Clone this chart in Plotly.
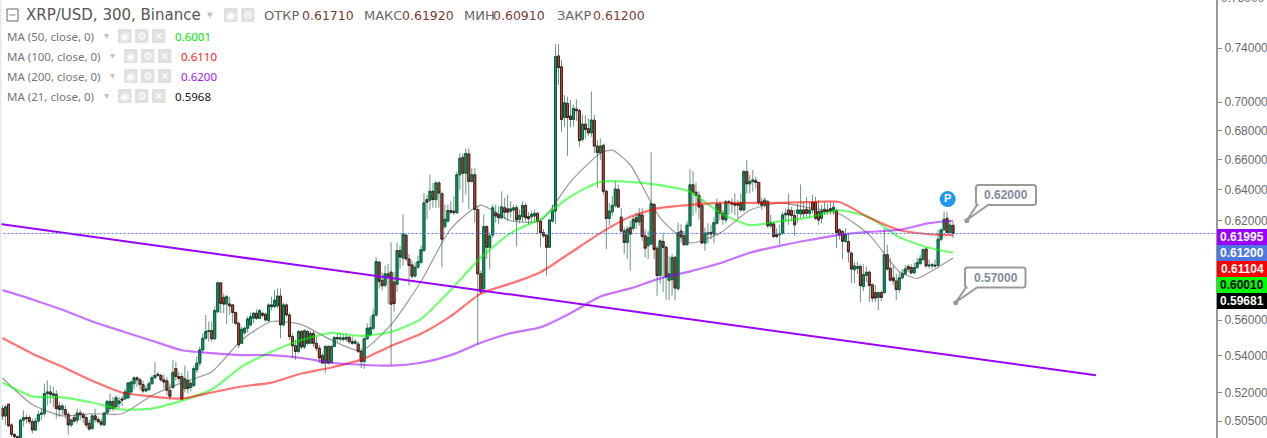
import plotly.graph_objects as go

# Five-minute XRP/USD candles, oldest first (ten per row).
opens = [
.5115,.5076,.5138,.503,.4982,.497,.4963,.5055,.5068,.5068,
.5047,.5004,.505,.5084,.5089,.5194,.5203,.5185,.519,.5129,
.511,.511,.5085,.503,.5068,.5055,.5092,.5085,.5068,.5038,
.5012,.5077,.5058,.5047,.503,.5092,.5115,.5153,.5124,.5141,
.5166,.5166,.5172,.5203,.5247,.5279,.5268,.5243,.5208,.5216,
.5247,.5279,.5298,.5292,.5268,.5262,.5212,.5227,.5329,.5286,
.5286,.5221,.5265,.5227,.5238,.5323,.5359,.5432,.5497,.5535,
.554,.5494,.5648,.5818,.5732,.5693,.5693,.5688,.5644,.5582,
.5469,.5529,.5554,.5573,.5611,.564,.5611,.564,.5634,.5597,
.5688,.5678,.5682,.574,.5573,.5688,.563,.5507,.5455,.5423,
.5535,.5448,.5535,.5469,.5525,.5469,.5441,.54,.5359,.5451,
.5362,.5451,.5501,.5492,.5499,.5492,.5503,.5478,.5469,.5465,
.5423,.5368,.5494,.5516,.5553,.5629,.5942,.5833,.5804,.5852,
.5882,.5823,.581,.6014,.5968,.6109,.5962,.5926,.5858,.5912,
.5942,.6014,.6336,.6332,.639,.6336,.6445,.6375,.6163,.6198,
.6266,.6261,.6251,.6499,.6616,.651,.6639,.6455,.6499,.6272,
.5872,.5783,.6163,.6034,.611,.6251,.624,.6219,.6283,.6276,
.6261,.6268,.6283,.6209,.6226,.6298,.6226,.6226,.623,.6247,
.6196,.6125,.6109,.6034,.6198,.6262,.734,.7259,.6892,.6992,
.6902,.6878,.6951,.694,.6739,.6845,.6813,.6784,.6873,.6693,
.6648,.6698,.639,.6215,.6257,.6298,.6401,.6223,.6135,.6064,
.6157,.6153,.6219,.6192,.6236,.6105,.6044,.6054,.6304,.6028,
.5862,.607,.6034,.5833,.5837,.5972,.5783,.6135,.6105,.605,
.6168,.6433,.6384,.6363,.6297,.606,.6116,.6126,.6116,.6184,
.6307,.6248,.6205,.6322,.6316,.6311,.6311,.6316,.6269,.652,
.6439,.6455,.646,.6448,.6322,.63,.6322,.6168,.618,.6112,
.6112,.6122,.6237,.6269,.6265,.6233,.6248,.6244,.6269,.6273,
.6248,.6318,.6318,.6258,.6216,.6273,.6269,.6277,.6265,.6265,
.6143,.6132,.6071,.607,.5998,.5897,.5905,.5916,.5796,.5863,
.5882,.5806,.576,.5732,.576,.576,.5988,.5905,.5848,.5829,
.5778,.5848,.5872,.5916,.591,.5878,.591,.5934,.5959,.6023,
.592,.592,.5924,.5924,.6084,.6142,.6215,.6126,.6171,
]
highs = [
.5132,.5132,.5141,.5038,.4987,.4975,.5063,.5106,.5085,.508,
.5063,.5068,.5106,.5115,.5247,.5265,.5238,.523,.5212,.515,
.5141,.5132,.5097,.5063,.5085,.5115,.511,.5097,.508,.5058,
.5085,.5115,.5072,.5063,.5097,.5159,.5194,.5176,.5185,.5176,
.518,.5221,.5256,.5262,.5287,.5287,.5279,.5265,.5238,.5262,
.5292,.5367,.5311,.5302,.5298,.5283,.5247,.5377,.5365,.531,
.5305,.5345,.5315,.5265,.5345,.5396,.5451,.5525,.563,.5592,
.5592,.5678,.5826,.5822,.5755,.5746,.5736,.5693,.5648,.5592,
.5563,.5563,.562,.5644,.5648,.5663,.5663,.5644,.5644,.5697,
.5736,.5775,.5785,.5785,.57,.5697,.5644,.5525,.5488,.5544,
.5544,.5548,.5544,.554,.554,.5507,.546,.5414,.546,.546,
.546,.551,.5522,.5525,.552,.5522,.551,.5507,.5492,.5478,
.5441,.5503,.5582,.562,.5667,.5972,.5952,.5882,.5922,.5932,
.6064,.5882,.6064,.6044,.624,.6121,.5992,.5952,.5942,.5982,
.6044,.6379,.6368,.6499,.6445,.6456,.6456,.639,.6304,.6304,
.6326,.6357,.652,.6643,.6643,.6677,.6677,.6543,.6543,.6293,
.5892,.624,.6171,.6125,.6304,.6304,.6293,.639,.6347,.6368,
.6326,.6304,.6304,.6272,.6326,.6315,.6255,.6261,.6272,.6255,
.6209,.6147,.6115,.6209,.6304,.743,.743,.7309,.7051,.704,
.7016,.698,.702,.6956,.6914,.6908,.6884,.7078,.6908,.6734,
.6746,.671,.6401,.6315,.6358,.6456,.6434,.6283,.6157,.6167,
.6198,.623,.625,.6283,.6283,.6147,.6137,.665,.6315,.6044,
.6084,.6125,.6044,.5982,.5992,.5982,.6188,.6178,.6135,.6198,
.6536,.6525,.6448,.639,.6337,.6157,.6184,.6174,.6226,.6344,
.6322,.6269,.6333,.6333,.6344,.6376,.6333,.6376,.6531,.6598,
.6497,.6531,.6486,.6455,.635,.635,.6333,.6237,.6195,.6153,
.6174,.6258,.6279,.6376,.629,.6269,.6311,.6435,.6322,.6353,
.6322,.6365,.6353,.6333,.63,.6322,.6311,.6322,.6322,.6279,
.6153,.6143,.6153,.6122,.6008,.5944,.5944,.593,.593,.5916,
.5891,.5816,.5806,.5769,.5772,.6153,.6048,.5969,.592,.5872,
.5882,.5901,.5925,.593,.593,.594,.5969,.5988,.6027,.6035,
.5959,.594,.5959,.6142,.6153,.626,.6258,.6205,.6192,
]
lows = [
.5055,.503,.5018,.497,.4963,.4963,.4963,.5021,.5038,.5035,
.4987,.5,.5041,.5055,.5072,.5132,.5141,.5124,.5063,.5072,
.508,.5063,.4982,.5018,.5038,.5038,.5055,.5041,.5018,.5,
.5004,.5041,.5038,.5021,.5024,.5089,.5097,.5102,.5106,.5115,
.5129,.5159,.5166,.5185,.5216,.523,.5212,.5198,.5203,.5208,
.5243,.5274,.5283,.5256,.5221,.5185,.5159,.5216,.5265,.5255,
.5155,.52,.5195,.5205,.5227,.5305,.5341,.5414,.5488,.5478,
.5478,.5488,.5644,.564,.564,.5578,.563,.5582,.5573,.5441,
.5465,.5516,.5529,.5563,.5582,.5601,.5605,.5616,.5592,.5592,
.5655,.5669,.5669,.5497,.5563,.562,.5488,.5387,.5377,.5414,
.5436,.5436,.546,.5465,.5448,.5423,.5359,.5355,.5305,.535,
.5355,.5448,.5478,.5478,.5478,.5478,.5465,.546,.5462,.5414,
.5332,.5327,.5488,.5507,.5543,.562,.5783,.5774,.5795,.5692,
.535,.5648,.5764,.5902,.5922,.5952,.5802,.5843,.5852,.5902,
.5932,.6004,.6209,.6268,.6283,.6283,.6283,.5912,.6147,.6188,
.624,.624,.6247,.6401,.6315,.6368,.6272,.6445,.6188,.5461,
.5754,.5774,.5962,.5902,.6094,.6188,.6178,.6209,.6209,.6198,
.6219,.6198,.6038,.6184,.6192,.6198,.6178,.6188,.6188,.6115,
.6034,.6094,.5862,.6028,.6188,.6178,.7126,.6792,.6828,.6627,
.6822,.6828,.6868,.669,.6722,.6746,.6762,.6757,.6645,.6412,
.6599,.6369,.6022,.6168,.6232,.6283,.6283,.6125,.5992,.5962,
.5892,.6135,.6147,.6168,.6074,.5972,.5962,.6048,.5962,.5741,
.5813,.5763,.5715,.5715,.5741,.5715,.5773,.6064,.6044,.6044,
.6164,.6232,.6252,.6209,.6054,.6012,.6057,.6081,.6059,.6174,
.6205,.6174,.6184,.6237,.6248,.6237,.6216,.6258,.6258,.6376,
.6376,.6387,.6408,.63,.6269,.6286,.6153,.6153,.6091,.6091,
.6051,.6112,.6195,.6174,.6195,.6105,.6184,.6216,.6216,.6226,
.6216,.6248,.6205,.6174,.6184,.6237,.6237,.6237,.6237,.603,
.6081,.5961,.6061,.594,.5816,.5816,.5872,.5704,.5769,.5825,
.5704,.5704,.5704,.5658,.5709,.5754,.5891,.5825,.5806,.5717,
.576,.584,.5863,.5882,.5867,.5872,.5901,.5925,.5949,.591,
.5905,.5901,.591,.5916,.607,.6138,.6122,.6122,.6091,
]
closes = [
.5076,.5124,.5026,.4982,.497,.4966,.5055,.5068,.5062,.5047,
.5004,.505,.5084,.5092,.5194,.5203,.519,.5194,.5115,.511,
.5129,.5085,.503,.5055,.505,.5092,.5085,.5068,.503,.5009,
.5077,.5058,.5047,.5033,.5092,.5153,.5153,.5115,.5172,.5155,
.5159,.5203,.5251,.5256,.5279,.5268,.5243,.5208,.5219,.5247,
.5279,.5292,.5292,.5268,.5256,.5212,.518,.5308,.5286,.5275,
.5165,.5274,.5221,.5249,.5329,.5359,.5432,.5497,.5535,.554,
.5494,.5655,.5818,.5697,.5693,.5736,.5682,.5644,.5582,.546,
.5548,.5554,.5607,.562,.564,.5611,.5655,.5628,.5601,.5688,
.5678,.5716,.574,.5573,.5688,.563,.5507,.5455,.5423,.5535,
.5448,.554,.5469,.5525,.5469,.5441,.5387,.5359,.5451,.5359,
.5451,.5501,.5494,.5499,.5492,.5503,.5478,.5469,.5478,.5423,
.5368,.5494,.5554,.5557,.5629,.5946,.5827,.58,.5872,.5872,
.5692,.5696,.6014,.5974,.6115,.5962,.5922,.5858,.5912,.5946,
.6018,.6315,.6319,.639,.6336,.6445,.6379,.6084,.6209,.6266,
.6255,.6251,.6499,.661,.651,.6643,.6455,.6499,.6272,.5872,
.5764,.6163,.6034,.6105,.6283,.623,.6219,.6289,.6255,.6255,
.6276,.6283,.6205,.6234,.6298,.6219,.6213,.6242,.6247,.6196,
.6125,.6105,.6034,.6205,.6266,.7335,.7253,.6878,.6996,.6892,
.6878,.6956,.694,.673,.6845,.6808,.6784,.6873,.6693,.6648,
.6693,.639,.6215,.6262,.6298,.6405,.6288,.6135,.6064,.6147,
.6116,.6209,.6192,.624,.61,.6028,.6095,.631,.602,.5862,
.6074,.6034,.5853,.5872,.5972,.5787,.6125,.61,.605,.6172,
.6433,.6384,.6363,.6288,.606,.6122,.6124,.6116,.6188,.6307,
.6248,.6209,.6322,.6316,.6307,.63,.63,.6269,.652,.6439,
.6455,.6465,.6448,.6316,.63,.6333,.6168,.6188,.6101,.6101,
.6116,.6237,.6248,.6237,.6233,.6174,.6269,.6269,.6244,.6248,
.6269,.6269,.6216,.6205,.6263,.6258,.626,.6265,.6286,.6126,
.6112,.6071,.6112,.6005,.5901,.592,.5916,.5802,.5867,.5882,
.5802,.5728,.5728,.576,.5732,.5988,.5901,.5834,.5831,.5778,
.5848,.5872,.5901,.5901,.5878,.591,.594,.5963,.6019,.592,
.5924,.5928,.592,.6084,.6142,.6209,.6126,.6173,.612,
]

# Moving averages, sampled at these bar numbers.
ma_bars = [0,10,20,30,40,50,60,70,80,90,100,110,120,130,140,150,160,170,180,190,200,
           210,220,230,240,250,260,270,280,290,300,310,318]
ma50 = [.5253,.5179,.5174,.5147,.511,.5115,.5157,.5216,.5339,.5421,.5487,.5527,.551,.5533,.5606,.5777,.597,
        .6122,.6212,.6356,.6452,.6452,.643,.6387,.6252,.6172,.6197,.6222,.6267,.6222,.6097,.6031,.6001]
ma100 = [.5498,.5411,.5339,.5263,.52,.5179,.5168,.52,.5232,.5253,.5302,.5335,.5378,.5454,.5522,.5623,.5754,
         .5814,.5882,.60,.6122,.6225,.6282,.6302,.6315,.6315,.6315,.632,.632,.6219,.6142,.6115,.6110]
ma200 = [.5775,.572,.566,.5592,.5537,.5483,.543,.5414,.5403,.5403,.5387,.5361,.535,.5345,.5361,.5403,.5472,
         .5526,.5559,.564,.5737,.5785,.5845,.5887,.5936,.60,.6043,.6079,.6111,.613,.6142,.6185,.6200]
ma21_bars = [0,10,20,30,40,50,60,70,80,90,100,110,120,130,140,150,160,170,180,190,200,204,
             210,220,230,240,250,260,270,280,290,300,306,310,318]
ma21 = [.5278,.5136,.5077,.5088,.5088,.5184,.5253,.5312,.5487,.5592,.5574,.5487,.5427,.5574,.5826,.615,.63,
        .62,.62,.6452,.6644,.6665,.6566,.6219,.6062,.6122,.6267,.6315,.6282,.6243,.6111,.5886,.5845,.588,.5968]

# Long falling trend line and the dotted level of the last close.
trend_bars = [-0.84, 365.8]
trend_prices = [.6179, .5293]
last_close = .612

# Price notes placed to the right of the last candle.
note_bars = [322.6, 318.9]
note_prices = [.62, .57]
note_labels = ["0.62000", "0.57000"]
pivot_bar = [316.2]
pivot_price = [.6339]

tick_values = [.74, .70, .68, .66, .64, .62, .56, .54, .52, .505]
tick_labels = ["0.74000", "0.70000", "0.68000", "0.66000", "0.64000",
               "0.62000", "0.56000", "0.54000", "0.52000", "0.50500"]
top_tick_label = "0.78000"

# Coloured price tags on the axis: label, background, text colour.
tag_labels = ["0.61995", "0.61200", "0.61104", "0.60010", "0.59681"]
tag_fills = ["#9900ff", "#4f78e0", "#ff0000", "#00ff00", "#000000"]
tag_inks = ["#ffffff", "#ffffff", "#ffffff", "#000000", "#ffffff"]

bars = list(range(len(closes)))
PLOT_W, PLOT_H = 1216, 438
UI = "DejaVu Sans"
LEGEND = "Noto Sans"


def fx(x):
    return x / PLOT_W


def fy(y):
    return 1 - y / PLOT_H


fig = go.Figure()

# Wicks: full candles in the wick colour, with the bodies painted over them.
fig.add_trace(go.Candlestick(
    x=bars, open=opens, high=highs, low=lows, close=closes, whiskerwidth=0,
    increasing=dict(line=dict(color="#6b9584", width=1), fillcolor="#6b9584"),
    decreasing=dict(line=dict(color="#6b9584", width=1), fillcolor="#6b9584"),
    hoverinfo="skip", showlegend=False))
fig.add_trace(go.Candlestick(
    x=bars, open=opens, close=closes,
    high=[max(o, c) for o, c in zip(opens, closes)],
    low=[min(o, c) for o, c in zip(opens, closes)], whiskerwidth=0,
    increasing=dict(line=dict(color="#0b5c3c", width=1), fillcolor="#0f9d63"),
    decreasing=dict(line=dict(color="#43201c", width=1), fillcolor="#c4493d"),
    hoverinfo="skip", showlegend=False))


def add_line(xs, ys, color, width, dash="solid", curved=True):
    line = dict(color=color, width=width, dash=dash)
    if curved:
        line.update(shape="spline", smoothing=0.6)
    fig.add_trace(go.Scatter(x=xs, y=ys, mode="lines", showlegend=False, hoverinfo="skip", line=line))


add_line(ma21_bars, ma21, "rgba(70,70,70,0.55)", 1.2)
add_line(ma_bars, ma50, "rgba(0,255,0,0.55)", 2.2)
add_line(ma_bars, ma100, "rgba(255,0,0,0.55)", 2.2)
add_line(ma_bars, ma200, "rgba(153,0,255,0.55)", 2.2)
add_line(trend_bars, trend_prices, "#9900ff", 2, curved=False)
add_line([-1, 406], [last_close, last_close], "#4a6fe0", 1, "2px,2px", curved=False)

fig.add_trace(go.Scatter(x=note_bars, y=note_prices, mode="markers", showlegend=False, hoverinfo="skip",
                         marker=dict(color="#999999", size=5)))
fig.add_trace(go.Scatter(x=pivot_bar, y=pivot_price, mode="markers+text", text=["<b>P</b>"],
                         textposition="middle center", showlegend=False, hoverinfo="skip",
                         textfont=dict(color="#ffffff", size=11, family="Liberation Sans"),
                         marker=dict(color="#1e96f3", size=16)))

shapes = []
notes = []


def text(x, y, s, color, size, family=UI, anchor="left"):
    notes.append(dict(xref="paper", yref="paper", x=fx(x), y=fy(y), text=s, showarrow=False,
                      xanchor=anchor, yanchor="middle", borderpad=0,
                      font=dict(color=color, size=size, family=family)))


def box(x0, y0, x1, y1, fill, line=None, width=0):
    shapes.append(dict(type="rect", xref="paper", yref="paper", x0=fx(x0), x1=fx(x1),
                       y0=fy(y0), y1=fy(y1), fillcolor=fill, layer="above",
                       line=dict(color=line or fill, width=width)))


def buttons(xs, y0, y1, glyphs):
    for x0, g in zip(xs, glyphs):
        box(x0, y0, x0 + 13.5, y1, "#e0e0e0")
        text(x0 + 6.75, (y0 + y1) / 2, g, "#ffffff", 11, UI, "center")


# Header row: collapse box, symbol, and the last bar's prices.
box(7, 9, 18, 21, "#ffffff", "#666666", 1)
box(9.5, 14.6, 15.5, 15.4, "#666666")
text(25, 15, "XRP/USD, 300, Binance", "#555555", 15)
text(206, 14, "▾", "#c0c0c0", 11, UI)
buttons([224, 241], 8, 22, ["◉", "⚙"])
for x, s in [(263, "ОТКР"), (363, "МАКС"), (463, "МИН"), (556, "ЗАКР")]:
    text(x, 15, s, "#666666", 13)
for x, s in [(301, "0.61710"), (401, "0.61920"), (492, "0.60910"), (592, "0.61200")]:
    text(x, 15, s, "#7c3a33", 12.5)

# Indicator rows.
rows = [
    ("MA (50, close, 0)", 36, 105, 118, 135, 152, 174, "0.6001", "#00e600"),
    ("MA (100, close, 0)", 56, 111, 124, 141, 158, 180, "0.6110", "#ff2020"),
    ("MA (200, close, 0)", 76, 111, 124, 141, 158, 180, "0.6200", "#a020ff"),
    ("MA (21, close, 0)", 96, 105, 118, 135, 152, 174, "0.5968", "#111111"),
]
for label, y, arrow_x, b1, b2, b3, value_x, value, ink in rows:
    text(6, y, label, "#757575", 11.5, LEGEND)
    text(arrow_x - 2, y - 1, "▾", "#c4c4c4", 10, UI)
    buttons([b1, b2, b3], y - 7, y + 7, ["◉", "⚙", "✕"])
    text(value_x, y, value, ink, 11.5, LEGEND)

# Axis price tags.
for k, (label, fill, ink) in enumerate(zip(tag_labels, tag_fills, tag_inks)):
    top = 229 + 16 * k
    box(1217, top, 1267, top + 16, fill)
    notes.append(dict(xref="paper", yref="paper", x=fx(1242), y=fy(top + 8), text="<b>" + label + "</b>",
                      showarrow=False, xanchor="center", yanchor="middle",
                      font=dict(color=ink, size=12, family="Liberation Sans")))

# The next tick up only just fits at the top edge.
text(1243, -2, top_tick_label, "#6a6a6a", 12, "Liberation Sans", "center")


# Speech-bubble outlines for the two price notes.
def bubble(x0, y0, x1, y1, tip_x, tip_y, t0, t1, r=2.5):
    p = [("M", x0 + r, y0), ("L", x1 - r, y0), ("Q", x1, y0, x1, y0 + r), ("L", x1, y1 - r),
         ("Q", x1, y1, x1 - r, y1), ("L", t1, y1), ("L", tip_x, tip_y), ("L", t0, y1),
         ("L", x0 + r, y1), ("Q", x0, y1, x0, y1 - r), ("L", x0, y0 + r), ("Q", x0, y0, x0 + r, y0)]
    out = []
    for seg in p:
        coords = seg[1:]
        pts = [f"{fx(coords[i]):.5f},{fy(coords[i + 1]):.5f}" for i in range(0, len(coords), 2)]
        out.append(seg[0] + " ".join(pts))
    shapes.append(dict(type="path", xref="paper", yref="paper", path=" ".join(out) + " Z",
                       fillcolor="#ffffff", layer="above", line=dict(color="#999999", width=2)))


bubble(976, 185, 1036, 205, 967, 220, 977, 988)
bubble(965, 267.5, 1025.5, 287.5, 956, 302, 966, 977)
text(1006, 195, "<b>" + note_labels[0] + "</b>", "#7d8c9c", 12, "Liberation Sans", "center")
text(995.5, 277.5, "<b>" + note_labels[1] + "</b>", "#7d8c9c", 12, "Liberation Sans", "center")

# Pale edge on the left of the pane.
box(0, 0, 1.5, 438, "#e4e8ef")

fig.update_layout(
    width=1267, height=438, margin=dict(l=0, r=51, t=0, b=0, pad=0),
    paper_bgcolor="#ffffff", plot_bgcolor="#ffffff", showlegend=False,
    shapes=shapes, annotations=notes, hovermode=False, boxgap=0.05,
    xaxis=dict(range=[-0.836, 405.97], visible=False, rangeslider=dict(visible=False), fixedrange=True),
    yaxis=dict(type="log", side="right", range=[-0.30424, -0.10941], autorange=False, fixedrange=True,
               tickvals=tick_values, ticktext=tick_labels, ticks="outside", ticklen=4, tickwidth=1,
               tickcolor="#888888", showgrid=False, zeroline=False, showline=True, linecolor="#999999",
               linewidth=2, tickfont=dict(color="#6a6a6a", size=12, family="Liberation Sans")),
)

fig.write_html("out.html", config=dict(displayModeBar=False))
